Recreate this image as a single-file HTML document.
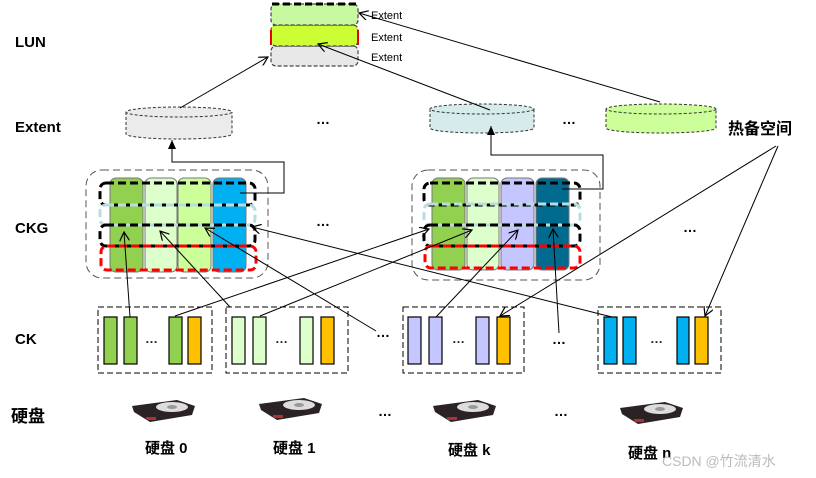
<!DOCTYPE html>
<html><head><meta charset="utf-8"><style>
body{margin:0;background:#fff}
svg{display:block}
text{font-family:"Liberation Sans","Noto Sans CJK SC",sans-serif}
</style></head><body>
<svg width="816" height="478" viewBox="0 0 816 478" xmlns="http://www.w3.org/2000/svg">
<defs>
<marker id="a" markerWidth="10" markerHeight="10" refX="9" refY="5" orient="auto" markerUnits="userSpaceOnUse"><path d="M0,0 L9,5 L0,10" fill="none" stroke="#000" stroke-width="1.2"/></marker>
<marker id="f" markerWidth="10" markerHeight="10" refX="9" refY="5" orient="auto" markerUnits="userSpaceOnUse"><path d="M0,1 L9,5 L0,9z" fill="#000"/></marker>
</defs>
<g font-weight="bold" font-size="15" fill="#000">
<text x="15" y="47">LUN</text>
<text x="15" y="132">Extent</text>
<text x="15" y="233">CKG</text>
<text x="15" y="344">CK</text>
<text x="11" y="422" font-size="17">硬盘</text>
<text x="728" y="134" font-size="16">热备空间</text>
</g>
<!-- LUN stack -->
<g stroke="#444" stroke-dasharray="4,2" stroke-width="1.2">
<rect x="271" y="46" width="87" height="20" rx="5" fill="#e8e8e8"/>
<rect x="271" y="25" width="87" height="21" rx="5" fill="#ccff33"/>
<rect x="271" y="4" width="87" height="21" rx="5" fill="#c8f9a0"/>
</g>
<path d="M271,45 V30 M358,45 V30" stroke="#e00" stroke-width="2"/>
<path d="M272,4 H356" stroke="#000" stroke-width="3" stroke-dasharray="7,4"/>
<g font-size="11"><text x="371" y="19">Extent</text><text x="371" y="41">Extent</text><text x="371" y="61">Extent</text></g>
<!-- Extent row -->
<g stroke="#333" stroke-dasharray="3,2" stroke-width="1">
<path d="M126,112 V134 A53,5 0 0 0 232,134 V112" fill="#ebebeb"/><ellipse cx="179" cy="112" rx="53" ry="5" fill="#ebebeb"/>
<path d="M430,109 V128 A52,5 0 0 0 534,128 V109" fill="#d6ecec"/><ellipse cx="482" cy="109" rx="52" ry="5" fill="#d6ecec"/>
<path d="M606,109 V128 A55,5 0 0 0 716,128 V109" fill="#ccff99"/><ellipse cx="661" cy="109" rx="55" ry="5" fill="#ccff99"/>
</g>
<g font-weight="bold" font-size="14"><text x="316" y="124">…</text><text x="562" y="124">…</text><text x="316" y="226">…</text><text x="683" y="232">…</text>
<text x="376" y="337">…</text><text x="552" y="344">…</text><text x="378" y="416">…</text><text x="554" y="416">…</text></g>
<!-- CKG left -->
<rect x="86" y="170" width="182" height="108" rx="16" fill="none" stroke="#555" stroke-dasharray="7,4"/>
<g stroke="#777" stroke-width="1">
<rect x="110" y="178" width="33" height="94" rx="6" fill="#92d050"/>
<rect x="145" y="178" width="32" height="94" rx="6" fill="#ddffcc"/>
<rect x="178" y="178" width="33" height="94" rx="6" fill="#ccff99"/>
<rect x="213" y="178" width="33" height="94" rx="6" fill="#00b0f0"/>
</g>
<rect x="100" y="183" width="155" height="22" rx="6" fill="none" stroke="#000" stroke-width="3" stroke-dasharray="8,4"/>
<rect x="100" y="205" width="155" height="20" rx="6" fill="none" stroke="#b8dde0" stroke-width="3" stroke-dasharray="8,4"/>
<rect x="100" y="225" width="155" height="21" rx="6" fill="none" stroke="#000" stroke-width="3" stroke-dasharray="8,4"/>
<rect x="101" y="246" width="155" height="24" rx="6" fill="none" stroke="#f00" stroke-width="3" stroke-dasharray="8,4"/>
<!-- CKG right -->
<rect x="412" y="170" width="188" height="110" rx="16" fill="none" stroke="#555" stroke-dasharray="7,4"/>
<g stroke="#777" stroke-width="1">
<rect x="432" y="178" width="33" height="92" rx="6" fill="#92d050"/>
<rect x="467" y="178" width="32" height="92" rx="6" fill="#ddffcc"/>
<rect x="501" y="178" width="33" height="92" rx="6" fill="#c5c5ff"/>
<rect x="536" y="178" width="33" height="92" rx="6" fill="#006b8f"/>
</g>
<rect x="424" y="183" width="156" height="22" rx="6" fill="none" stroke="#000" stroke-width="3" stroke-dasharray="8,4"/>
<rect x="424" y="204" width="156" height="21" rx="6" fill="none" stroke="#b8dde0" stroke-width="3" stroke-dasharray="8,4"/>
<rect x="424" y="225" width="156" height="21" rx="6" fill="none" stroke="#000" stroke-width="3" stroke-dasharray="8,4"/>
<rect x="425" y="246" width="155" height="22" rx="6" fill="none" stroke="#f00" stroke-width="3" stroke-dasharray="8,4"/>
<!-- CK boxes -->
<g fill="none" stroke="#000" stroke-dasharray="6,3">
<rect x="98" y="307" width="114" height="66"/><rect x="226" y="307" width="122" height="66"/>
<rect x="403" y="307" width="121" height="66"/><rect x="598" y="307" width="123" height="66"/>
</g>
<g stroke="#000" stroke-width="1.2">
<rect x="104" y="317" width="13" height="47" fill="#92d050"/><rect x="124" y="317" width="13" height="47" fill="#92d050"/><rect x="169" y="317" width="13" height="47" fill="#92d050"/><rect x="188" y="317" width="13" height="47" fill="#ffc000"/>
<rect x="232" y="317" width="13" height="47" fill="#ddffcc"/><rect x="253" y="317" width="13" height="47" fill="#ddffcc"/><rect x="300" y="317" width="13" height="47" fill="#ddffcc"/><rect x="321" y="317" width="13" height="47" fill="#ffc000"/>
<rect x="408" y="317" width="13" height="47" fill="#c5c5ff"/><rect x="429" y="317" width="13" height="47" fill="#c5c5ff"/><rect x="476" y="317" width="13" height="47" fill="#c5c5ff"/><rect x="497" y="317" width="13" height="47" fill="#ffc000"/>
<rect x="604" y="317" width="13" height="47" fill="#00b0f0"/><rect x="623" y="317" width="13" height="47" fill="#00b0f0"/><rect x="677" y="317" width="12" height="47" fill="#00b0f0"/><rect x="695" y="317" width="13" height="47" fill="#ffc000"/>
</g>
<g font-weight="bold" font-size="13" fill="#123"><text x="145" y="343">…</text><text x="275" y="343">…</text><text x="452" y="343">…</text><text x="650" y="343">…</text></g>
<!-- disks -->
<g>
<g transform="translate(132,398)"><path d="M0,8 L45,2 L63,8 L60,17 L18,24 L2,14Z" fill="#2a2224"/><ellipse cx="40" cy="9" rx="16" ry="5" fill="#ddd"/><ellipse cx="40" cy="9" rx="5" ry="2" fill="#999"/><rect x="14" y="19" width="10" height="3" fill="#a33"/></g>
<g transform="translate(259,396)"><path d="M0,8 L45,2 L63,8 L60,17 L18,24 L2,14Z" fill="#2a2224"/><ellipse cx="40" cy="9" rx="16" ry="5" fill="#ddd"/><ellipse cx="40" cy="9" rx="5" ry="2" fill="#999"/><rect x="14" y="19" width="10" height="3" fill="#a33"/></g>
<g transform="translate(433,398)"><path d="M0,8 L45,2 L63,8 L60,17 L18,24 L2,14Z" fill="#2a2224"/><ellipse cx="40" cy="9" rx="16" ry="5" fill="#ddd"/><ellipse cx="40" cy="9" rx="5" ry="2" fill="#999"/><rect x="14" y="19" width="10" height="3" fill="#a33"/></g>
<g transform="translate(620,400)"><path d="M0,8 L45,2 L63,8 L60,17 L18,24 L2,14Z" fill="#2a2224"/><ellipse cx="40" cy="9" rx="16" ry="5" fill="#ddd"/><ellipse cx="40" cy="9" rx="5" ry="2" fill="#999"/><rect x="14" y="19" width="10" height="3" fill="#a33"/></g>
</g>
<g font-weight="bold" font-size="15"><text x="145" y="453">硬盘 0</text><text x="273" y="453">硬盘 1</text><text x="448" y="455">硬盘 k</text><text x="628" y="458">硬盘 n</text></g>
<text x="662" y="466" font-size="14" fill="#bbb">CSDN @竹流清水</text>
<!-- connectors -->
<g fill="none" stroke="#000" stroke-width="1">
<path d="M240,193 H284 V162 H172 V140" marker-end="url(#f)"/>
<path d="M562,189 H603 V155 H491 V126" marker-end="url(#f)"/>
<path d="M180,108 L268,57" marker-end="url(#a)"/>
<path d="M490,110 L318,44" marker-end="url(#a)"/>
<path d="M660,102 L359,13" marker-end="url(#a)"/>
<path d="M130,317 L124,232" marker-end="url(#a)"/>
<path d="M230,307 L160,231" marker-end="url(#a)"/>
<path d="M376,331 L205,228" marker-end="url(#a)"/>
<path d="M612,317 L252,227" marker-end="url(#a)"/>
<path d="M175,316 L429,229" marker-end="url(#a)"/>
<path d="M260,316 L472,230" marker-end="url(#a)"/>
<path d="M436,317 L518,230" marker-end="url(#a)"/>
<path d="M559,333 L553,229" marker-end="url(#a)"/>
<path d="M776,146 L500,316" marker-end="url(#a)"/>
<path d="M778,146 L705,316" marker-end="url(#a)"/>
</g>
</svg>
</body></html>
